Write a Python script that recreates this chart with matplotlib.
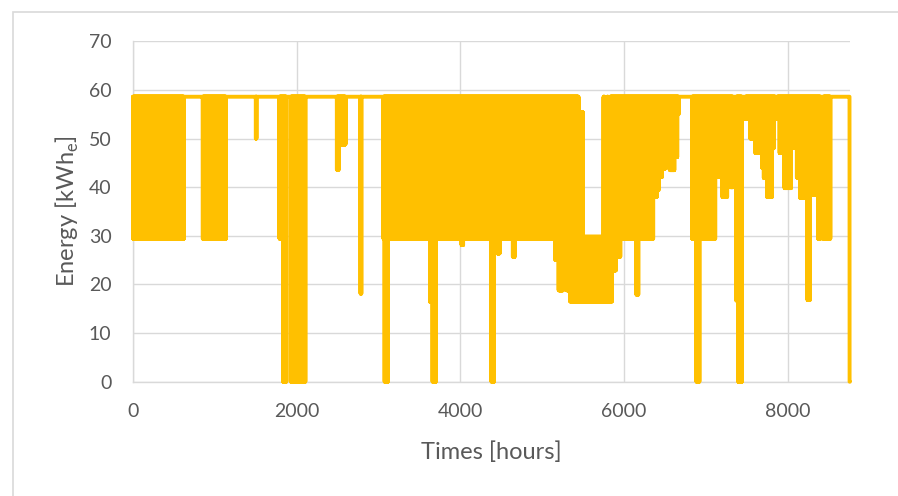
import numpy as np
import matplotlib
matplotlib.use("Agg")
import matplotlib.pyplot as plt
from matplotlib.patches import Rectangle

# === Dati ===
# hourly profile over one year, stored as runs: inside each run the output
# swings hour by hour between run_low and run_high (equal values = flat)
n_hours = 8760
run_start = [0, 623, 852, 1137, 1500, 1508, 1790, 1835, 1875, 1928,
             2107, 2490, 2515, 2596, 2780, 2790, 3060, 3075, 3115, 3630,
             3660, 3700, 4015, 4035, 4380, 4412, 4450, 4480, 4640, 4665,
             5160, 5200, 5255, 5300, 5340, 5444, 5485, 5497, 5750, 5760,
             5795, 5803, 5830, 5852, 5900, 5955, 6150, 6175, 6357, 6400,
             6422, 6465, 6500, 6560, 6615, 6650, 6666, 6830, 6885, 6920,
             7115, 7150, 7200, 7260, 7300, 7330, 7370, 7395, 7440, 7482,
             7543, 7604, 7686, 7706, 7746, 7808, 7828, 7848, 7870, 7900,
             7960, 8040, 8110, 8150, 8240, 8270, 8350, 8370, 8400, 8435,
             8520, 8755]
run_low = [29.4, 58.6, 29.4, 58.6, 50.0, 58.6, 29.4, 0.0, 58.6, 0.0,
           58.6, 43.6, 48.8, 58.6, 18.1, 58.6, 29.4, 0.0, 29.4, 16.4,
           0.0, 29.4, 28.1, 29.4, 0.0, 29.4, 26.4, 29.4, 25.7, 29.4,
           25.0, 18.8, 23.6, 18.8, 16.5, 16.5, 16.5, 16.5, 16.5, 16.5,
           16.5, 16.5, 16.5, 22.9, 25.7, 29.4, 17.9, 29.4, 38.0, 39.4,
           42.1, 43.8, 44.1, 43.5, 46.2, 55.0, 58.6, 29.4, 0.0, 29.4,
           46.9, 42.1, 38.0, 45.0, 40.0, 58.6, 16.7, 0.0, 58.6, 54.0,
           50.0, 47.0, 44.0, 41.9, 38.0, 48.0, 57.0, 58.6, 54.0, 47.0,
           39.8, 48.2, 42.0, 37.8, 16.8, 38.4, 39.8, 29.4, 58.6, 29.4,
           58.6, 0.0]
run_high = [58.6, 58.6, 58.6, 58.6, 58.6, 58.6, 58.6, 58.6, 58.6, 58.6,
            58.6, 58.6, 58.6, 58.6, 58.6, 58.6, 58.6, 58.6, 58.6, 58.6,
            58.6, 58.6, 58.6, 58.6, 58.6, 58.6, 58.6, 58.6, 58.6, 58.6,
            58.6, 58.6, 58.6, 58.6, 58.6, 29.8, 55.4, 29.8, 58.6, 29.8,
            58.6, 29.8, 58.6, 58.6, 58.6, 58.6, 58.6, 58.6, 58.6, 58.6,
            58.6, 58.6, 58.6, 58.6, 58.6, 58.6, 58.6, 58.6, 58.6, 58.6,
            58.6, 58.6, 58.6, 58.6, 58.6, 58.6, 58.6, 58.6, 58.6, 58.6,
            58.6, 58.6, 58.6, 58.6, 58.6, 58.6, 58.6, 58.6, 58.6, 58.6,
            58.6, 58.6, 58.6, 58.6, 58.6, 58.6, 58.6, 58.6, 58.6, 58.6,
            58.6, 0.0]

x_ticks = [0, 2000, 4000, 6000, 8000]
y_ticks = [0, 10, 20, 30, 40, 50, 60, 70]

# === Serie oraria ===
hours = np.arange(n_hours)
energy = np.empty(n_hours)
edges = run_start + [n_hours]
for i in range(len(run_start)):
    h = hours[edges[i]:edges[i + 1]]
    energy[edges[i]:edges[i + 1]] = np.where(h % 2 == 0, run_high[i], run_low[i])

# === Grafico ===
plt.rcParams['font.family'] = ['Lato', 'DejaVu Sans']
plt.rcParams['path.simplify'] = False
grey_txt = '#595959'
grey_line = '#d9d9d9'

fig = plt.figure(figsize=(8.98, 4.96), dpi=100)
ax = fig.add_axes([133 / 898, 1 - 381.7 / 496, 717 / 898, 340.4 / 496])

ax.plot(hours, energy, color='#FFC000', linewidth=2.8,
        solid_joinstyle='round', solid_capstyle='round', clip_on=False, zorder=3)

ax.set_xlim(0, n_hours)
ax.set_ylim(0, 70)
ax.set_xticks(x_ticks)
ax.set_yticks(y_ticks)
ax.grid(True, color=grey_line, linewidth=1.0)
ax.set_axisbelow(True)
for side in ['top', 'right']:
    ax.spines[side].set_visible(False)
for side in ['left', 'bottom']:
    ax.spines[side].set_color(grey_line)
    ax.spines[side].set_linewidth(1.0)
ax.tick_params(axis='both', length=0, labelsize=14, labelcolor=grey_txt)
ax.tick_params(axis='y', pad=15.5)
ax.tick_params(axis='x', pad=15.5)

ax.set_xlabel('Times [hours]', fontsize=17, color=grey_txt, va='center')
ax.xaxis.set_label_coords(0.5, -0.207)
ax.set_ylabel(r'Energy [kWh$_\mathregular{e}$]', fontsize=17, color=grey_txt, va='center')
ax.yaxis.set_label_coords(-0.091, 0.5)

# bordo dell'area grafico
fig.add_artist(Rectangle((13 / 898, -0.5), 2, 1.5 - 12 / 496, transform=fig.transFigure,
                         fill=False, edgecolor=grey_line, linewidth=1.2))

fig.savefig('out.png', dpi=100, facecolor='white')
